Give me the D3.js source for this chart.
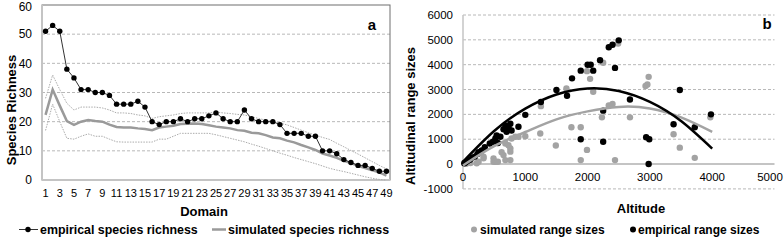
<!DOCTYPE html>
<meta charset="utf-8">
<html>
<head>
<script src="https://cdn.jsdelivr.net/npm/d3@7"></script>
<style>
body { margin: 0; background: #fff; }
text { font-family: "Liberation Sans", Arial, sans-serif; fill: #000; }
.grid { stroke: #b8b8b8; stroke-width: 1; stroke-dasharray: 3,2; }
</style>
</head>
<body>
<script>
// ---- panel a: species richness per domain ----
var domains = [1,2,3,4,5,6,7,8,9,10,11,12,13,14,15,16,17,18,19,20,21,22,23,24,25,
               26,27,28,29,30,31,32,33,34,35,36,37,38,39,40,41,42,43,44,45,46,47,48,49];
var empirical = [51,53,51,38,35,31,31,30,30,29, 26,26,26,27,25,20,19,20,20,21,
                 20,21,21,22,23,21,20,20,24,21, 20,20,20,19,16,16,16,15,15,10,
                 10,9,7,6,5,5,4,3,3];
var simMean = [22.3,31,25.5,20.2,18.9,20,20.6,20.2,20,19, 18.2,18,18,17.7,17.5,17.1,18,18.3,18.6,19.2,
               19.3,19.4,19.2,18.8,18.3,18,17.7,17.1,16.9,16.2, 16,15.4,14.6,14.3,13.5,12.9,12,11.2,10.3,9.1,
               8.4,7.6,6.6,5.8,4.9,4.1,3.3,2.6,1.5];
var simUpper = [28,36,31,26.3,24,25,25,25,24.7,24, 23,23,22.8,22.3,22,21.1,21.7,22,22.3,22.8,
                23,23,23,23,23.3,23,22.8,22.5,22.3,21.7, 21.1,20.5,20,19.5,18.9,18,17.1,16.2,15.4,14.6,
                13.9,12.6,11.4,10.1,8.9,7.6,6.3,5,3.8];
var simLower = [17,26,20,14.3,14,15,15.8,15,15,14, 13.1,13,13,13,13,13,14,14,15,16,
                16,16,16,16,15.5,14.9,14.3,13.7,13.1,12.3, 11.6,10.8,10,9.2,8.5,7.7,7,6.3,5.6,4.8,
                4,3.4,2.9,2.3,1.7,1.1,0.6,0.2,0];
var richTicks = [0,10,20,30,40,50,60];

// ---- panel b: range size vs altitude ----
var simulatedPts = [[50,10],[120,40],[220,30],[250,90],[330,230],[330,300],[490,230],[490,90],[520,90],
  [560,90],[620,480],[650,360],[680,830],[680,160],[730,760],[760,630],[760,500],[760,160],[780,1030],
  [840,1100],[890,1100],[1000,1120],[1240,1230],[1250,2330],[1490,750],[1660,3040],[1740,1480],
  [1890,1480],[1890,160],[1990,570],[1990,3740],[2040,3430],[2090,2910],[2230,1880],[2250,4080],
  [2340,2360],[2400,2420],[2440,160],[2490,4850],[2680,1880],[2930,3140],[2960,3200],[2980,3510],
  [3380,1200],[3480,660],[3720,250],[3970,1880]];
var empiricalPts = [[20,30],[40,60],[70,120],[110,170],[150,260],[190,300],[230,400],[250,480],[300,550],
  [350,680],[430,830],[480,900],[520,1030],[540,1150],[560,850],[600,1100],[650,1400],[680,1550],
  [700,1300],[730,1480],[760,1620],[780,1350],[890,1500],[1000,1980],[1250,2500],[1500,2980],
  [1670,2750],[1750,3450],[1890,3760],[2000,4000],[2050,4000],[2090,3760],[2200,4180],[2340,4700],
  [2400,4800],[2500,4980],[2440,3870],[2250,2150],[2250,900],[1890,1000],[2680,2600],[2940,1080],
  [2990,1000],[2980,0],[3380,1600],[3480,2980],[3720,1480],[3980,2000]];
var trendAlt = [0,500,1000,1500,2000,2500,3000,3500,4000];
var empTrend = [90,1330,2230,2800,3040,2940,2500,1730,620];
var simTrend = [-60,720,1290,1800,2120,2300,2240,1880,1300];
var altTicks = [0,1000,2000,3000,4000,5000];
var rangeTicks = [-1000,0,1000,2000,3000,4000,5000,6000];

var svg = d3.select("body").append("svg")
    .attr("width", 784)
    .attr("height", 240);

// ===== panel a =====
var xa = d3.scaleBand().domain(domains).range([42, 390]);
var xc = function(d) { return xa(d) + xa.bandwidth() / 2; };
var ya = d3.scaleLinear().domain([0, 60]).range([180, 5]);

var ga = svg.append("g");
ga.selectAll(".grid").data(richTicks.filter(function(t){ return t > 0 && t < 60; }))
  .enter().append("line").attr("class", "grid")
  .attr("x1", 42).attr("x2", 390)
  .attr("y1", function(d){ return ya(d); }).attr("y2", function(d){ return ya(d); });

ga.append("rect").attr("x", 42).attr("y", ya(60)).attr("width", 348).attr("height", ya(0) - ya(60))
  .attr("fill", "none").attr("stroke", "#6e6e6e").attr("stroke-width", 1);
ga.append("line").attr("x1", 42).attr("x2", 42).attr("y1", ya(60)).attr("y2", ya(0))
  .attr("stroke", "#c4c4c4").attr("stroke-width", 2);
ga.append("line").attr("x1", 42).attr("x2", 390).attr("y1", ya(0)).attr("y2", ya(0))
  .attr("stroke", "#c4c4c4").attr("stroke-width", 2);

var lineA = function(vals) {
  return d3.line().x(function(d, i){ return xc(domains[i]); }).y(function(d){ return ya(d); })(vals);
};
ga.append("path").attr("d", lineA(simUpper)).attr("fill", "none")
  .attr("stroke", "#ababab").attr("stroke-width", 1).attr("stroke-dasharray", "1.5,1.2");
ga.append("path").attr("d", lineA(simLower)).attr("fill", "none")
  .attr("stroke", "#ababab").attr("stroke-width", 1).attr("stroke-dasharray", "1.5,1.2");
ga.append("path").attr("d", lineA(simMean)).attr("fill", "none")
  .attr("stroke", "#9a9a9a").attr("stroke-width", 2.5);
ga.append("path").attr("d", lineA(empirical)).attr("fill", "none")
  .attr("stroke", "#333").attr("stroke-width", 1);
ga.selectAll(".emp").data(empirical).enter().append("circle")
  .attr("cx", function(d, i){ return xc(domains[i]); })
  .attr("cy", function(d){ return ya(d); })
  .attr("r", 2.7).attr("fill", "#000");

ga.selectAll(".ytl").data(richTicks).enter().append("text")
  .attr("x", 32).attr("y", function(d){ return Math.max(ya(d), 6.5); })
  .attr("dy", "0.35em").attr("text-anchor", "end").style("font-size", "12px")
  .text(function(d){ return d; });
ga.selectAll(".xtl").data(domains.filter(function(d){ return d % 2 === 1; })).enter().append("text")
  .attr("x", function(d){ return xc(d); }).attr("y", 193.5)
  .attr("dy", "0.35em").attr("text-anchor", "middle").style("font-size", "11px")
  .text(function(d){ return d; });

ga.append("text").attr("transform", "translate(16,110) rotate(-90)")
  .attr("text-anchor", "middle").style("font-size", "13px").style("font-weight", "bold")
  .text("Species Richness");
ga.append("text").attr("x", 204).attr("y", 216).attr("text-anchor", "middle")
  .style("font-size", "13px").style("font-weight", "bold").text("Domain");
ga.append("text").attr("x", 372).attr("y", 30).attr("text-anchor", "middle")
  .style("font-size", "15px").style("font-weight", "bold").text("a");

// legend a
ga.append("line").attr("x1", 19).attr("x2", 38).attr("y1", 229.5).attr("y2", 229.5)
  .attr("stroke", "#333").attr("stroke-width", 1);
ga.append("circle").attr("cx", 28).attr("cy", 229.5).attr("r", 2.7).attr("fill", "#000");
ga.append("text").attr("x", 40).attr("y", 233.5).style("font-size", "12.4px").style("font-weight", "bold")
  .text("empirical species richness");
ga.append("line").attr("x1", 212).attr("x2", 226).attr("y1", 229.5).attr("y2", 229.5)
  .attr("stroke", "#9a9a9a").attr("stroke-width", 2.5);
ga.append("text").attr("x", 228).attr("y", 233.5).style("font-size", "12.4px").style("font-weight", "bold")
  .text("simulated species richness");

// ===== panel b =====
var xb = d3.scaleLinear().domain([0, 5000]).range([463, 774.5]);
var yb = d3.scaleLinear().domain([-1000, 6000]).range([188.9, 15]);

var gb = svg.append("g");
gb.selectAll(".grid").data(rangeTicks.filter(function(t){ return t !== 0; }))
  .enter().append("line").attr("class", "grid")
  .attr("x1", xb(0)).attr("x2", xb(5000))
  .attr("y1", function(d){ return yb(d); }).attr("y2", function(d){ return yb(d); });
gb.append("line").attr("x1", xb(0)).attr("x2", xb(5000)).attr("y1", yb(0)).attr("y2", yb(0))
  .attr("stroke", "#c4c4c4").attr("stroke-width", 2);
gb.append("line").attr("x1", xb(0)).attr("x2", xb(0)).attr("y1", yb(6000)).attr("y2", yb(-1000))
  .attr("stroke", "#c4c4c4").attr("stroke-width", 1.5);

gb.selectAll(".sim").data(simulatedPts).enter().append("circle")
  .attr("cx", function(d){ return xb(d[0]); }).attr("cy", function(d){ return yb(d[1]); })
  .attr("r", 3.2).attr("fill", "#a3a3a3");
gb.selectAll(".empb").data(empiricalPts).enter().append("circle")
  .attr("cx", function(d){ return xb(d[0]); }).attr("cy", function(d){ return yb(d[1]); })
  .attr("r", 3.2).attr("fill", "#000");

var trendLine = function(vals) {
  return d3.line().curve(d3.curveNatural)
    .x(function(d, i){ return xb(trendAlt[i]); }).y(function(d){ return yb(d); })(vals);
};
gb.append("path").attr("d", trendLine(simTrend)).attr("fill", "none")
  .attr("stroke", "#a3a3a3").attr("stroke-width", 2.5);
gb.append("path").attr("d", trendLine(empTrend)).attr("fill", "none")
  .attr("stroke", "#000").attr("stroke-width", 2.5);

gb.selectAll(".ytl").data(rangeTicks).enter().append("text")
  .attr("x", 453).attr("y", function(d){ return yb(d); })
  .attr("dy", "0.35em").attr("text-anchor", "end").style("font-size", "11.5px")
  .text(function(d){ return d; });
// the last tick label sits against the right edge, as in the source figure
gb.selectAll(".xtl").data(altTicks).enter().append("text")
  .attr("x", function(d){ return Math.min(xb(d), 770); }).attr("y", 177)
  .attr("dy", "0.35em").attr("text-anchor", "middle").style("font-size", "11.5px")
  .text(function(d){ return d; });

gb.append("text").attr("transform", "translate(415,116) rotate(-90)")
  .attr("text-anchor", "middle").style("font-size", "13px").style("font-weight", "bold")
  .text("Altitudinal range sizes");
gb.append("text").attr("x", 641).attr("y", 213).attr("text-anchor", "middle")
  .style("font-size", "13px").style("font-weight", "bold").text("Altitude");
gb.append("text").attr("x", 767).attr("y", 29).attr("text-anchor", "middle")
  .style("font-size", "15px").style("font-weight", "bold").text("b");

// legend b
gb.append("circle").attr("cx", 474).attr("cy", 229.5).attr("r", 3).attr("fill", "#a3a3a3");
gb.append("text").attr("x", 480).attr("y", 233.5).style("font-size", "12px").style("font-weight", "bold")
  .text("simulated range sizes");
gb.append("circle").attr("cx", 633).attr("cy", 229.5).attr("r", 3).attr("fill", "#000");
gb.append("text").attr("x", 638).attr("y", 233.5).style("font-size", "12px").style("font-weight", "bold")
  .text("empirical range sizes");
</script>
</body>
</html>
